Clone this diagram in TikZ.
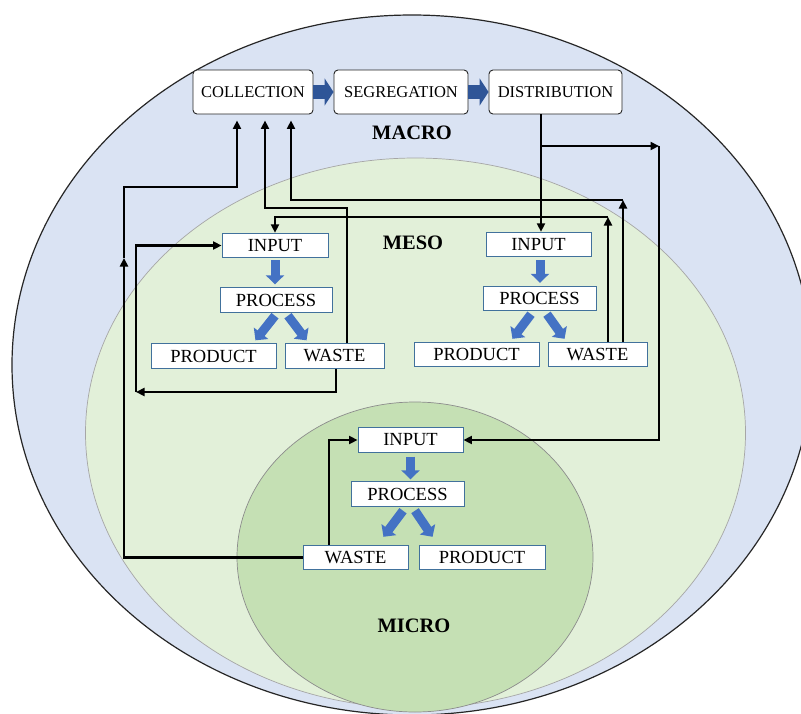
\documentclass[tikz,border=0pt]{standalone}
\usepackage{fontspec}
\setmainfont{Liberation Serif}
\usetikzlibrary{arrows.meta}

\definecolor{macrofill}{HTML}{DAE3F3}
\definecolor{mesofill}{HTML}{E2F0D9}
\definecolor{microfill}{HTML}{C5E0B4}
\definecolor{darkblue}{HTML}{2F5597}
\definecolor{flowblue}{HTML}{4472C4}
\definecolor{boxblue}{HTML}{41719C}

\begin{document}
\begin{tikzpicture}[x=1pt, y=-1pt,
    topbox/.style={rectangle, draw=black!85, line width=0.9pt, fill=white, rounded corners=4pt, minimum height=44pt, inner sep=0pt, font=\fontsize{16.5}{19}\selectfont},
    unit/.style={rectangle, draw=boxblue, line width=0.9pt, fill=white, minimum height=24.5pt, inner sep=0pt, font=\fontsize{18.5}{21}\selectfont},
    level/.style={font=\fontsize{20.5}{23}\selectfont\bfseries},
    link/.style={line width=2.4pt, -{Triangle[length=8.5pt,width=8pt]}},
    bigarrow/.style={draw=darkblue, line width=14pt, -{Triangle[length=9pt,width=27pt]}},
    flow/.style={draw=flowblue, line width=9pt, -{Triangle[length=9pt,width=18pt]}}
]

    \path[use as bounding box] (0,0) rectangle (801,713);
    \fill[white] (0,0) rectangle (801,713);
    \clip (0,0) rectangle (801,713);

    % Levels
    \filldraw[fill=macrofill, draw=black!85, line width=1.2pt] (412,365) ellipse [x radius=400pt, y radius=350pt];
    \filldraw[fill=mesofill, draw=black!35, line width=0.7pt] (415.5,433) ellipse [x radius=330pt, y radius=275pt];
    \filldraw[fill=microfill, draw=black!45, line width=0.7pt] (415,557) ellipse [x radius=178pt, y radius=155pt];

    \node[level] (macro) at (412,133) {MACRO};
    \node[level] (meso) at (413,243) {MESO};
    \node[level] (micro) at (414,626) {MICRO};

    % Macro
    \node[topbox, minimum width=120pt] (coll) at (253,92) {COLLECTION};
    \node[topbox, minimum width=134pt] (segr) at (401,92) {SEGREGATION};
    \node[topbox, minimum width=133pt] (dist) at (555.5,92) {DISTRIBUTION};

    \draw[bigarrow] (coll.east) -- (segr.west);
    \draw[bigarrow] (segr.east) -- (dist.west);

    % Meso (left)
    \node[unit, minimum width=106pt] (lin) at (275,245.5) {INPUT};
    \node[unit, minimum width=112pt] (lproc) at (276,300) {PROCESS};
    \node[unit, minimum width=125pt] (lprod) at (213.5,356) {PRODUCT};
    \node[unit, minimum width=99pt] (lwaste) at (334.5,356) {WASTE};

    \draw[flow] ([yshift=-2pt]lin.south) -- ([xshift=-1pt,yshift=3pt]lproc.north);
    \draw[flow] ([xshift=-1pt,yshift=-3pt]lproc.south) -- ([xshift=-21pt,yshift=3pt]lprod.north east);
    \draw[flow] ([xshift=12pt,yshift=-3pt]lproc.south) -- ([xshift=22pt,yshift=3pt]lwaste.north west);

    % Meso (right)
    \node[unit, minimum width=105pt] (rin) at (538.5,244.5) {INPUT};
    \node[unit, minimum width=113pt] (rproc) at (539.5,298.5) {PROCESS};
    \node[unit, minimum width=125pt] (rprod) at (476.5,354.5) {PRODUCT};
    \node[unit, minimum width=99pt] (rwaste) at (597.5,354.5) {WASTE};

    \draw[flow] ([xshift=1.5pt,yshift=-3pt]rin.south) -- ([xshift=0.5pt,yshift=3pt]rproc.north);
    \draw[flow] ([xshift=-8.5pt,yshift=-3pt]rproc.south) -- ([xshift=-27pt,yshift=3pt]rprod.north east);
    \draw[flow] ([xshift=7.5pt,yshift=-3pt]rproc.south) -- ([xshift=17pt,yshift=3pt]rwaste.north west);

    % Micro
    \node[unit, minimum width=105pt] (micin) at (410.5,440) {INPUT};
    \node[unit, minimum width=113pt] (micproc) at (407.5,494) {PROCESS};
    \node[unit, minimum width=105pt] (micwaste) at (355.5,557.5) {WASTE};
    \node[unit, minimum width=126pt] (micprod) at (482,557.5) {PRODUCT};

    \draw[flow] ([yshift=-4pt]micin.south) -- ([xshift=3pt,yshift=2pt]micproc.north);
    \draw[flow] ([xshift=-4.5pt,yshift=-4pt]micproc.south) -- ([xshift=-25pt,yshift=8pt]micwaste.north east);
    \draw[flow] ([xshift=7.5pt,yshift=-4pt]micproc.south) -- ([xshift=14pt,yshift=8pt]micprod.north west);

    % Returns
    \coordinate (k1) at (124,258);
    \draw[link] (micwaste.west) -| (k1);
    \draw[link, shorten >=6pt] (k1) -- (124,187) -| ([xshift=-16pt]coll.south);
    \draw[link] ([xshift=-26.5pt]micwaste.north) |- (micin.west);

    \draw[link, shorten >=6pt] ([xshift=12.5pt]lwaste.north) -- (347,208) -| ([xshift=12pt]coll.south);
    \coordinate (k3) at (136,392);
    \draw[link] ([xshift=1.5pt]lwaste.south) |- (k3);
    \draw[link] (k3) |- (lin.west);

    \coordinate (k5) at (608,217);
    \draw[link] ([xshift=10.5pt]rwaste.north) -- (k5);
    \draw[link] (k5) -| (lin.north);
    \coordinate (k6) at (623,200);
    \draw[link] ([xshift=25.5pt]rwaste.north) -- (k6);
    \draw[link, shorten >=6pt] (k6) -| ([xshift=38pt]coll.south);

    % Distribution
    \draw[link] ([xshift=-14.5pt]dist.south) -- ([xshift=2.5pt]rin.north);
    \coordinate (k7) at (541,146);
    \coordinate (k8) at (659,146);
    \draw[link] (k7) -- (k8);
    \draw[link] (k8) |- (micin.east);

\end{tikzpicture}
\end{document}
